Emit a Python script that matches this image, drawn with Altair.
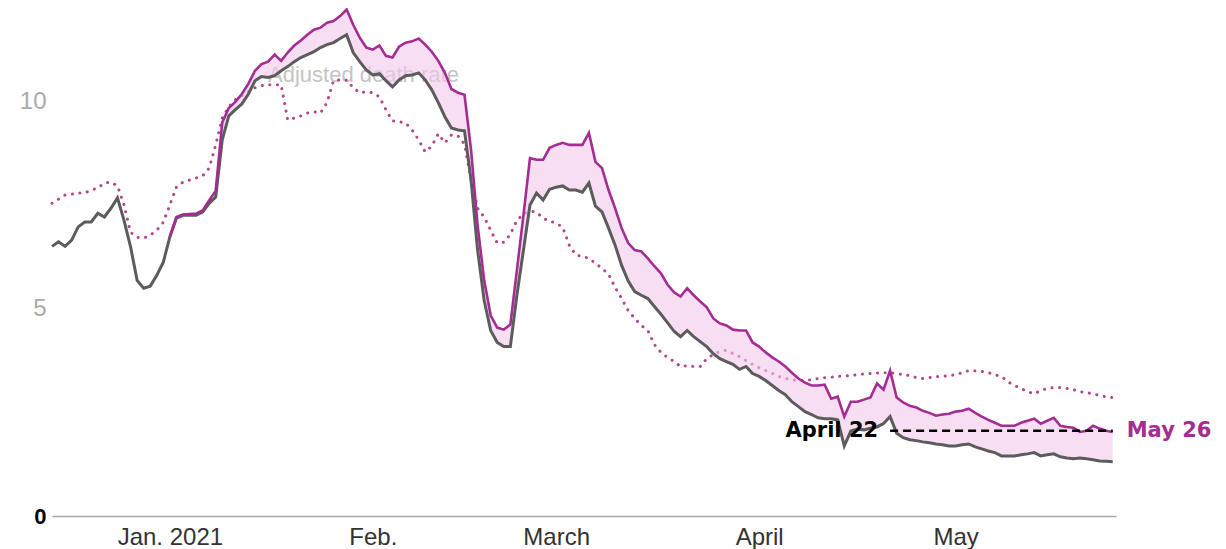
import altair as alt
import pandas as pd

# ---------------- data ----------------
gray_start = "2020-12-14"
gray_vals = [
    # Dec 14 - Dec 31
    6.51, 6.62, 6.51, 6.66, 6.98, 7.10, 7.10, 7.31, 7.22, 7.43, 7.68, 7.14, 6.50, 5.69, 5.50, 5.55, 5.81, 6.13,
    # Jan
    6.74, 7.19, 7.26, 7.26, 7.26, 7.34, 7.55, 7.70, 9.08, 9.66, 9.81, 9.95, 10.19, 10.51, 10.61, 10.59,
    10.63, 10.75, 10.85, 10.97, 11.07, 11.14, 11.21, 11.31, 11.38, 11.43, 11.53, 11.62, 11.19, 10.97, 10.77,
    # Feb
    10.65, 10.68, 10.51, 10.36, 10.53, 10.63, 10.65, 10.70, 10.53, 10.29, 9.98, 9.64, 9.37, 9.32, 9.30,
    8.11, 6.42, 5.21, 4.48, 4.19, 4.09, 4.09, 5.33, 6.42, 7.51, 7.80, 7.63, 7.89,
    # Mar
    7.94, 7.97, 7.87, 7.87, 7.82, 8.04, 7.48, 7.34, 6.95, 6.54, 6.05, 5.67, 5.42, 5.33, 5.25, 5.06,
    4.87, 4.67, 4.46, 4.33, 4.48, 4.33, 4.21, 4.09, 3.92, 3.80, 3.73, 3.66, 3.54, 3.61, 3.44,
    # Apr
    3.37, 3.27, 3.15, 3.03, 2.93, 2.76, 2.64, 2.52, 2.45, 2.37, 2.35, 2.35, 2.32, 1.69, 2.05, 2.10,
    2.08, 2.12, 2.15, 2.23, 2.40, 2.00, 1.89, 1.84, 1.82, 1.79, 1.77, 1.74, 1.72, 1.69,
    # May 1 - May 25
    1.69, 1.72, 1.74, 1.67, 1.62, 1.57, 1.53, 1.45, 1.45, 1.45, 1.48, 1.50, 1.53, 1.45, 1.48, 1.50,
    1.43, 1.40, 1.38, 1.40, 1.38, 1.36, 1.33, 1.32, 1.31,
]

adj_start = "2021-01-01"
adj_vals = [
    # Jan
    6.74, 7.22, 7.28, 7.29, 7.30, 7.38, 7.62, 7.85, 9.50, 9.85, 10.00, 10.19, 10.44, 10.75, 10.91, 10.97,
    11.14, 10.99, 11.19, 11.36, 11.48, 11.62, 11.74, 11.79, 11.91, 11.95, 12.07, 12.23, 11.86, 11.55, 11.31,
    # Feb
    11.26, 11.36, 11.11, 11.07, 11.33, 11.43, 11.46, 11.53, 11.38, 11.21, 10.99, 10.70, 10.31, 10.22, 10.17,
    8.84, 7.02, 5.69, 4.84, 4.55, 4.50, 4.62, 5.93, 7.26, 8.64, 8.60, 8.60, 8.89,
    # Mar
    8.96, 9.01, 8.96, 8.96, 8.96, 9.25, 8.55, 8.40, 7.87, 7.43, 6.95, 6.59, 6.42, 6.39, 6.22, 6.03,
    5.86, 5.59, 5.40, 5.30, 5.50, 5.33, 5.18, 5.04, 4.77, 4.65, 4.60, 4.50, 4.48, 4.48, 4.19,
    # Apr
    4.09, 3.95, 3.83, 3.73, 3.61, 3.46, 3.32, 3.22, 3.15, 3.15, 3.17, 2.83, 2.88, 2.40, 2.76, 2.76,
    2.81, 2.86, 3.20, 3.05, 3.51, 2.86, 2.74, 2.66, 2.62, 2.54, 2.49, 2.42, 2.45, 2.47,
    # May 1 - May 25
    2.52, 2.54, 2.59, 2.49, 2.40, 2.32, 2.25, 2.18, 2.18, 2.18, 2.25, 2.30, 2.35, 2.23, 2.30, 2.37,
    2.18, 2.15, 2.13, 2.03, 2.06, 2.18, 2.11, 2.06, 2.03,
]

dotted_start = "2020-12-14"
dotted_vals = [
    # Dec 14 - Dec 31
    7.55, 7.65, 7.75, 7.77, 7.80, 7.80, 7.87, 7.92, 8.04, 8.06, 7.97, 7.51, 6.85, 6.73, 6.71, 6.78, 6.90, 7.09,
    # Jan
    7.51, 7.94, 8.06, 8.11, 8.16, 8.21, 8.40, 8.96, 9.61, 9.88, 10.05, 10.15, 10.24, 10.34, 10.39, 10.41,
    10.41, 10.41, 9.56, 9.61, 9.66, 9.73, 9.76, 9.73, 9.98, 10.51, 10.53, 10.53, 10.34, 10.22, 10.24,
    # Feb
    10.22, 10.12, 9.81, 9.54, 9.52, 9.49, 9.32, 9.08, 8.79, 8.93, 9.23, 9.01, 9.20, 9.18, 8.98,
    8.11, 7.43, 7.22, 6.90, 6.59, 6.61, 6.80, 7.14, 7.29, 7.36, 7.34, 7.19, 7.12,
    # Mar
    7.07, 6.97, 6.54, 6.30, 6.27, 6.22, 6.10, 5.98, 5.84, 5.52, 5.25, 4.96, 4.77, 4.60, 4.48, 4.14,
    3.95, 3.83, 3.73, 3.61, 3.63, 3.61, 3.61, 3.80, 3.90, 3.97, 4.00, 3.92, 3.85, 3.75, 3.66,
    # Apr
    3.58, 3.51, 3.44, 3.37, 3.32, 3.29, 3.27, 3.27, 3.29, 3.32, 3.34, 3.35, 3.37, 3.38, 3.39, 3.41,
    3.43, 3.44, 3.45, 3.46, 3.46, 3.44, 3.41, 3.39, 3.34, 3.32, 3.34, 3.37, 3.37, 3.39,
    # May 1 - May 25
    3.41, 3.46, 3.51, 3.51, 3.49, 3.46, 3.41, 3.37, 3.24, 3.15, 3.08, 3.00, 2.95, 3.03, 3.08, 3.10,
    3.10, 3.08, 3.05, 3.00, 2.98, 2.95, 2.91, 2.88, 2.86,
]

month_ticks = ["2021-01-01", "2021-02-01", "2021-03-01", "2021-04-01", "2021-05-01"]
month_labels = ["Jan. 2021", "Feb.", "March", "April", "May"]
y_ticks = [0, 5, 10]

series_label = "Adjusted death rate"
series_label_pos = ("2021-01-16", 10.65)

ref_start, ref_end, ref_value = "2021-04-21", "2021-05-25", 2.06
ref_left_label, ref_right_label = "April 22", "May 26"

# ---------------- tables ----------------
def daily(start, vals):
    return pd.DataFrame({"date": pd.date_range(start, periods=len(vals), freq="D"), "v": vals})

gray_df = daily(gray_start, gray_vals)
adj_df = daily(adj_start, adj_vals)
dot_df = daily(dotted_start, dotted_vals)
band_df = adj_df.merge(gray_df.rename(columns={"v": "g"}), on="date")

MAG = "#a52c92"
GRAY = "#5c5c5c"
DOT = "#b4468a"

x_scale = alt.Scale(domain=[alt.DateTime(year=2020, month=12, date=14),
                            alt.DateTime(year=2021, month=5, date=25, hours=12)])
y_scale = alt.Scale(domain=[0, 12], nice=False, zero=True)

label_expr = "[" + ",".join("'" + s + "'" for s in month_labels) + "][month(datum.value)]"
tick_dt = [alt.DateTime(year=int(s[:4]), month=int(s[5:7]), date=int(s[8:10])) for s in month_ticks]

x_axis = alt.Axis(values=tick_dt, labelExpr=label_expr, grid=False, ticks=False,
                  domainColor="#a8a8a8", domainWidth=1.5, labelFont="Liberation Sans",
                  labelFontSize=24, labelColor="#333333", labelPadding=9, title=None)
y_axis = alt.Axis(values=y_ticks, grid=False, ticks=False, domain=False, title=None,
                  labelFont="Liberation Sans",
                  labelFontSize={"condition": {"test": "datum.value == 0", "value": 22}, "value": 24},
                  labelColor={"condition": {"test": "datum.value == 0", "value": "#000000"}, "value": "#aaaaaa"},
                  labelFontWeight={"condition": {"test": "datum.value == 0", "value": "bold"}, "value": "normal"},
                  labelPadding=6)

X = alt.X("date:T", scale=x_scale, axis=x_axis)
Y = alt.Y("v:Q", scale=y_scale, axis=y_axis)

lbl_df = pd.DataFrame({"date": [pd.Timestamp(series_label_pos[0])], "v": [series_label_pos[1]],
                       "t": [series_label]})
series_text = alt.Chart(lbl_df).mark_text(
    align="left", baseline="middle", font="Liberation Sans", fontSize=22, color="#c4c4c4"
).encode(x=alt.X("date:T", scale=x_scale), y=alt.Y("v:Q", scale=y_scale), text="t:N")

dotted = alt.Chart(dot_df).mark_line(
    color=DOT, strokeWidth=3, strokeDash=[0.1, 7.5], strokeCap="round"
).encode(x=X, y=Y)

band = alt.Chart(band_df).mark_area(color="#f3c8ea", opacity=0.6).encode(
    x=alt.X("date:T", scale=x_scale), y=alt.Y("v:Q", scale=y_scale), y2="g:Q")

gray_line = alt.Chart(gray_df).mark_line(color=GRAY, strokeWidth=3).encode(x=X, y=Y)
adj_line = alt.Chart(adj_df).mark_line(color=MAG, strokeWidth=2.6).encode(x=X, y=Y)

ref_df = pd.DataFrame({"date": [pd.Timestamp(ref_start)], "date2": [pd.Timestamp(ref_end)], "v": [ref_value]})
ref_rule = alt.Chart(ref_df).mark_rule(color="#000000", strokeWidth=2.6, strokeDash=[8, 5]).encode(
    x=alt.X("date:T", scale=x_scale), x2="date2:T", y=alt.Y("v:Q", scale=y_scale))

left_lbl = alt.Chart(ref_df).mark_text(
    align="right", baseline="middle", dx=-12, font="DejaVu Sans", fontWeight="bold", fontSize=21, color="#000000"
).encode(x=alt.X("date:T", scale=x_scale), y=alt.Y("v:Q", scale=y_scale), text=alt.value(ref_left_label))

right_lbl = alt.Chart(ref_df).mark_text(
    align="left", baseline="middle", dx=14, font="DejaVu Sans", fontWeight="bold", fontSize=21, color=MAG
).encode(x=alt.X("date2:T", scale=x_scale), y=alt.Y("v:Q", scale=y_scale), text=alt.value(ref_right_label))

chart = alt.layer(series_text, dotted, band, gray_line, adj_line, ref_rule, left_lbl, right_lbl).properties(
    width=1064, height=497,
    autosize=alt.AutoSizeParams(type="none"),
    padding={"left": 44, "top": 11, "right": 100, "bottom": 36},
).configure(background="white").configure_view(strokeWidth=0, stroke="transparent")

chart.save("out.html", embed_options={"renderer": "svg", "actions": False})
